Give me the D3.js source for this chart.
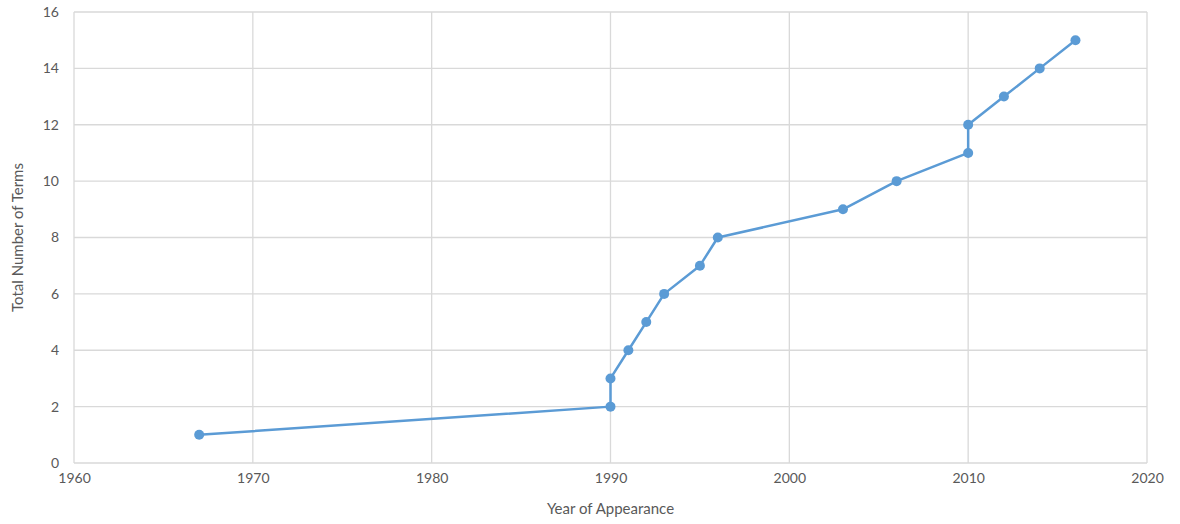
<!DOCTYPE html>
<html><head><meta charset="utf-8">
<script src="https://cdn.jsdelivr.net/npm/d3@7"></script>
<style>body{margin:0;background:#fff;} text{font-family:Lato,"Open Sans",sans-serif;fill:#595959;}</style>
</head><body><svg id="c" width="1180" height="524"></svg>
<script>
const years = [1967,1990,1990,1991,1992,1993,1995,1996,2003,2006,2010,2010,2012,2014,2016];
const terms = [1,2,3,4,5,6,7,8,9,10,11,12,13,14,15];
const xTicks = [1960,1970,1980,1990,2000,2010,2020];
const yTicks = [0,2,4,6,8,10,12,14,16];
const xTitle = "Year of Appearance";
const yTitle = "Total Number of Terms";

const svg = d3.select("#c");
const L=74,R=1147,T=12,B=463;
const x = d3.scaleLinear().domain([1960,2020]).range([L,R]);
const y = d3.scaleLinear().domain([0,16]).range([B,T]);

const g = svg.append("g");
g.selectAll(".vg").data(xTicks).join("line").attr("x1",d=>x(d)).attr("x2",d=>x(d)).attr("y1",T).attr("y2",B).attr("stroke","#d9d9d9").attr("stroke-width",1.3);
g.selectAll(".hg").data(yTicks).join("line").attr("x1",L).attr("x2",R).attr("y1",d=>y(d)).attr("y2",d=>y(d)).attr("stroke","#d9d9d9").attr("stroke-width",1.3);

const xa = svg.append("g").attr("transform",`translate(0,${B})`).call(d3.axisBottom(x).tickValues(xTicks).tickSize(0).tickPadding(10).tickFormat(d3.format("d")));
xa.select(".domain").remove();
xa.selectAll("text").style("font-size","14px").style("fill","#595959");
const ya = svg.append("g").attr("transform",`translate(${L},0)`).call(d3.axisLeft(y).tickValues(yTicks).tickSize(0).tickPadding(15));
ya.select(".domain").remove();
ya.selectAll("text").style("font-size","14px").style("fill","#595959");

svg.append("text").attr("x",(L+R)/2).attr("y",514).attr("text-anchor","middle").style("font-size","15px").text(xTitle);
svg.append("text").attr("transform",`translate(23,${(T+B)/2}) rotate(-90)`).attr("text-anchor","middle").style("font-size","15px").text(yTitle);

const pts = years.map((d,i)=>[d,terms[i]]);
svg.append("path").datum(pts).attr("fill","none").attr("stroke","#5b9bd5").attr("stroke-width",2.5).attr("stroke-linejoin","round")
  .attr("d",d3.line().x(d=>x(d[0])).y(d=>y(d[1])));
svg.selectAll(".pt").data(pts).join("circle").attr("cx",d=>x(d[0])).attr("cy",d=>y(d[1])).attr("r",5).attr("fill","#5b9bd5");
</script></body></html>
